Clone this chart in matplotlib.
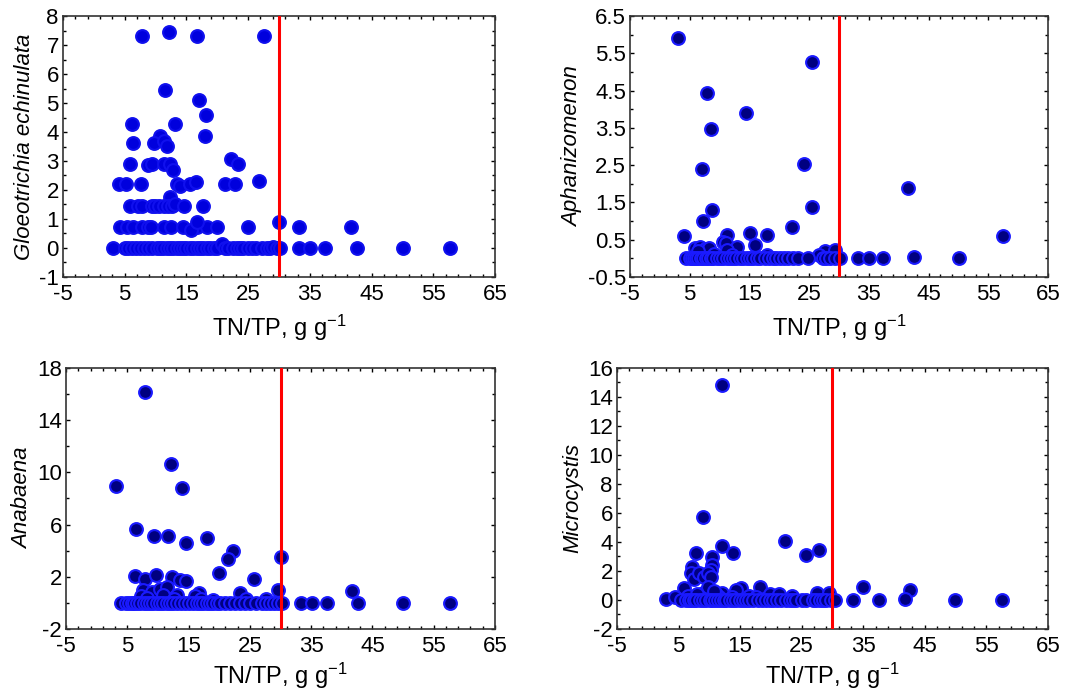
import numpy as np
import matplotlib
matplotlib.use("Agg")
import matplotlib.pyplot as plt
from matplotlib.ticker import AutoMinorLocator

plt.rcParams['font.family'] = ['Liberation Sans', 'DejaVu Sans']
plt.rcParams['mathtext.default'] = 'regular'
plt.rcParams['axes.unicode_minus'] = False

# Gloeotrichia echinulata
glo_x = [7.75, 12.2, 16.7, 27.5, 11.5, 17.0, 18.1, 6.2, 13.2, 18.0, 10.7, 6.3, 9.8, 11.3, 11.8,
         5.9, 8.8, 9.4, 11.4, 12.3, 12.8, 22.2, 23.4,
         4.1, 5.2, 7.6, 13.4, 13.9, 15.6, 16.6, 21.3, 22.8, 26.8, 12.3,
         5.9, 7.2, 7.8, 9.4, 9.9, 10.5, 11.3, 12.0, 12.6, 13.2, 14.6, 17.7,
         4.2, 5.3, 6.4, 7.75, 8.8, 9.2, 11.3, 12.5, 14.4, 16.7, 18.4, 19.9, 25.0, 33.3, 41.6,
         15.8, 16.7, 30.0,
         3.05, 5.05, 5.6, 6.13, 6.8, 7.48, 8.2, 8.83, 9.5, 10.18, 10.7, 11.26, 11.8, 12.34, 12.9,
         13.42, 14.0, 14.5, 15.0, 15.58, 16.1, 16.66, 17.2, 17.74, 18.3, 18.83, 19.4, 19.91, 20.72,
         21.3, 21.8, 22.5, 23.15, 23.7, 24.23, 24.9, 25.58, 26.3, 27.2, 28.0, 28.6, 29.1, 29.6,
         30.2, 33.3, 35.0, 37.5, 42.6, 50.05, 57.7]
glo_y = [7.31, 7.44, 7.31, 7.31, 5.45, 5.1, 4.6, 4.26, 4.26, 3.86, 3.86, 3.63, 3.63, 3.7, 3.53,
         2.9, 2.86, 2.9, 2.9, 2.9, 2.7, 3.06, 2.9,
         2.2, 2.2, 2.2, 2.2, 2.14, 2.2, 2.29, 2.2, 2.2, 2.31, 1.75,
         1.45, 1.45, 1.45, 1.45, 1.45, 1.45, 1.45, 1.45, 1.45, 1.5, 1.45, 1.45,
         0.74, 0.74, 0.74, 0.74, 0.74, 0.74, 0.74, 0.74, 0.74, 0.74, 0.74, 0.74, 0.74, 0.74, 0.74,
         0.62, 0.9, 0.9,
         0, 0, 0, 0, 0, 0, 0, 0, 0, 0, 0, 0, 0, 0, 0,
         0, 0, 0, 0, 0, 0, 0, 0, 0, 0, 0, 0, 0, 0.13,
         0, 0, 0, 0, 0, 0, 0, 0, 0, 0, 0, 0, 0.05, 0,
         0, 0, 0, 0, 0, 0, 0]

# Aphanizomenon
aph_x = [2.98, 25.56, 7.83, 14.4, 8.55, 6.99, 24.1, 41.6, 8.78, 25.56, 7.27, 4.04, 57.5,
         22.2, 15.1, 18.0, 11.2, 15.9, 10.5, 11.0, 12.85,
         5.9, 6.7, 7.5, 8.3, 27.6, 29.3, 26.7, 18.0, 11.2, 6.3, 9.0, 12.0,
         4.31, 5.04, 5.4, 5.71, 6.1, 6.43, 6.9, 7.27, 7.7, 8.11, 8.5, 8.94, 9.5, 10.06, 10.6,
         11.17, 11.7, 12.29, 12.8, 13.4, 14.0, 14.52, 15.1, 15.64, 16.2, 16.75, 17.59, 18.3,
         18.98, 19.5, 20.1, 20.8, 21.49, 22.33, 23.16, 24.84, 27.35, 27.9, 28.46, 29.3, 30.14,
         33.2, 34.99, 37.39, 42.52, 50.05]
aph_y = [5.92, 5.26, 4.43, 3.91, 3.47, 2.39, 2.52, 1.88, 1.30, 1.39, 0.99, 0.60, 0.60,
         0.83, 0.69, 0.63, 0.63, 0.36, 0.45, 0.42, 0.30,
         0.27, 0.3, 0.25, 0.27, 0.21, 0.23, 0.09, 0.1, 0.22, 0.2, 0.12, 0.1,
         0, 0, 0, 0, 0, 0, 0, 0, 0, 0, 0, 0, 0, 0, 0,
         0, 0, 0, 0, 0, 0, 0, 0, 0, 0, 0, 0, 0,
         0, 0, 0, 0, 0, 0, 0, 0, 0, 0, 0, 0, 0,
         0, 0, 0, 0.04, 0]

# Anabaena
ana_x = [7.94, 12.07, 3.16, 13.92, 6.42, 9.41, 11.69, 14.52, 18.06, 22.3, 21.37, 30.02, 19.96,
         6.26, 7.89, 9.68, 12.24, 13.6, 14.52, 25.67, 29.53, 41.71,
         7.6, 9.0, 10.4, 11.5, 16.7, 23.4, 24.3, 27.7, 13.05, 16.0, 7.2, 8.2, 10.9, 12.6, 17.0, 19.0,
         3.92, 4.79, 5.3, 5.71, 6.1, 6.53, 7.1, 7.72, 8.2, 8.7, 9.2, 9.79, 10.3, 10.88, 11.4,
         11.97, 12.5, 13.05, 13.7, 14.41, 15.1, 15.77, 16.3, 16.86, 17.4, 17.95, 18.5, 19.03,
         19.6, 20.12, 20.9, 21.75, 22.6, 23.39, 24.2, 25.02, 26.0, 26.92, 27.6, 28.28, 29.0,
         29.64, 30.18, 33.34, 35.08, 37.52, 42.58, 50.03, 57.64]
ana_y = [16.14, 10.64, 8.96, 8.78, 5.69, 5.13, 5.13, 4.56, 5.0, 3.95, 3.36, 3.54, 2.27,
         2.06, 1.83, 2.14, 1.96, 1.76, 1.65, 1.83, 0.99, 0.91,
         1.0, 0.8, 1.1, 1.2, 0.73, 0.73, 0.27, 0.27, 0.6, 0.5, 0.5, 0.4, 0.6, 0.3, 0.3, 0.2,
         0, 0, 0, 0, 0, 0, 0, 0, 0, 0, 0, 0, 0, 0, 0,
         0, 0, 0, 0, 0, 0, 0, 0, 0, 0, 0, 0, 0,
         0, 0, 0, 0, 0, 0, 0, 0, 0, 0, 0, 0, 0,
         0, 0, 0, 0, 0, 0, 0, 0]

# Microcystis
mic_x = [12.0, 8.97, 22.34, 12.11, 13.84, 7.89, 25.64, 27.76, 10.48, 10.4, 10.32, 7.24, 7.07,
         7.51, 8.35, 9.05, 9.86, 10.2, 5.83, 18.17, 15.2, 14.38, 34.96, 42.54,
         27.5, 29.4, 19.9, 21.3, 23.4, 12.1, 9.0, 7.45, 9.8, 13.6, 41.72, 3.0, 4.5,
         6.5, 8.0, 11.0, 16.5, 17.5, 11.5, 10.8,
         5.45, 6.26, 6.7, 7.07, 7.5, 7.89, 8.4, 8.97, 9.5, 10.05, 10.45, 10.86, 11.4, 11.95,
         12.4, 12.76, 13.3, 13.84, 14.4, 14.92, 15.5, 16.01, 16.5, 17.09, 17.9, 18.6, 19.26,
         19.8, 20.34, 21.0, 21.69, 22.4, 23.05, 23.6, 24.13, 25.0, 25.75, 26.84, 27.4, 27.92,
         28.5, 29.0, 29.7, 30.35, 33.33, 37.5, 49.95, 57.59]
mic_y = [14.83, 5.75, 4.07, 3.75, 3.26, 3.26, 3.10, 3.45, 2.99, 2.41, 2.07, 2.30, 1.84,
         1.43, 1.84, 1.56, 1.84, 1.56, 0.80, 0.92, 0.80, 0.69, 0.87, 0.69,
         0.46, 0.5, 0.41, 0.39, 0.28, 0.5, 0.5, 0.23, 0.9, 0.18, 0.09, 0.07, 0.18,
         0.3, 0.4, 0.4, 0.3, 0.2, 0.2, 0.6,
         0, 0, 0, 0, 0, 0, 0, 0, 0, 0, 0, 0, 0, 0,
         0, 0, 0, 0, 0, 0, 0, 0, 0, 0, 0, 0, 0,
         0, 0, 0, 0, 0, 0, 0, 0, 0, 0, 0, 0, 0,
         0, 0, 0, 0, 0, 0, 0, 0]

threshold = 30
x_ticks = [-5, 5, 15, 25, 35, 45, 55, 65]
glo_yticks = [-1, 0, 1, 2, 3, 4, 5, 6, 7, 8]
aph_yticks = [-0.5, 0.5, 1.5, 2.5, 3.5, 4.5, 5.5, 6.5]
ana_yticks = [-2, 2, 6, 10, 14, 18]
mic_yticks = [-2, 0, 2, 4, 6, 8, 10, 12, 14, 16]

panels = [
    (glo_x, glo_y, 'Gloeotrichia echinulata', glo_yticks, '#0000dd', '#1010ee',
     [0.0585, 0.6003, 0.4011, 0.3766], 6),
    (aph_x, aph_y, 'Aphanizomenon', aph_yticks, '#000080', '#1a1aff',
     [0.585, 0.6003, 0.388, 0.3766], 6),
    (ana_x, ana_y, 'Anabaena', ana_yticks, '#000080', '#1a1aff',
     [0.0613, 0.0924, 0.3983, 0.3766], 3),
    (mic_x, mic_y, 'Microcystis', mic_yticks, '#000080', '#1a1aff',
     [0.5729, 0.0924, 0.4001, 0.3766], 3),
]

fig = plt.figure(figsize=(10.77, 6.93), dpi=100)

for xs, ys, name, yticks, face, edge, rect, xpad in panels:
    ax = fig.add_axes(rect)
    ax.scatter(xs, ys, s=85, c=face, edgecolors=edge, linewidths=1.5, zorder=3)
    ax.axvline(threshold, color='#ff0000', linewidth=2.2, zorder=4)
    ax.set_xlim(-5, 65)
    ax.set_ylim(yticks[0], yticks[-1])
    ax.set_xticks(x_ticks)
    ax.set_yticks(yticks)
    ax.set_yticklabels([f'{v:g}' for v in yticks])
    ax.xaxis.set_minor_locator(AutoMinorLocator(5))
    ax.yaxis.set_minor_locator(AutoMinorLocator(2))
    ax.tick_params(which='both', direction='in', top=True, right=True,
                   labelsize=16)
    ax.tick_params(axis='x', pad=5)
    ax.tick_params(axis='y', pad=3)
    ax.tick_params(which='major', length=3, width=1)
    ax.tick_params(which='minor', length=2, width=1)
    for sp in ax.spines.values():
        sp.set_color('#333333')
        sp.set_linewidth(1.2)
    ax.set_ylabel(name, fontsize=16, style='italic', labelpad=3)
    ax.set_xlabel('TN/TP, g g$^{-1}$', fontsize=17, labelpad=xpad)

fig.savefig('out.png', dpi=100)
